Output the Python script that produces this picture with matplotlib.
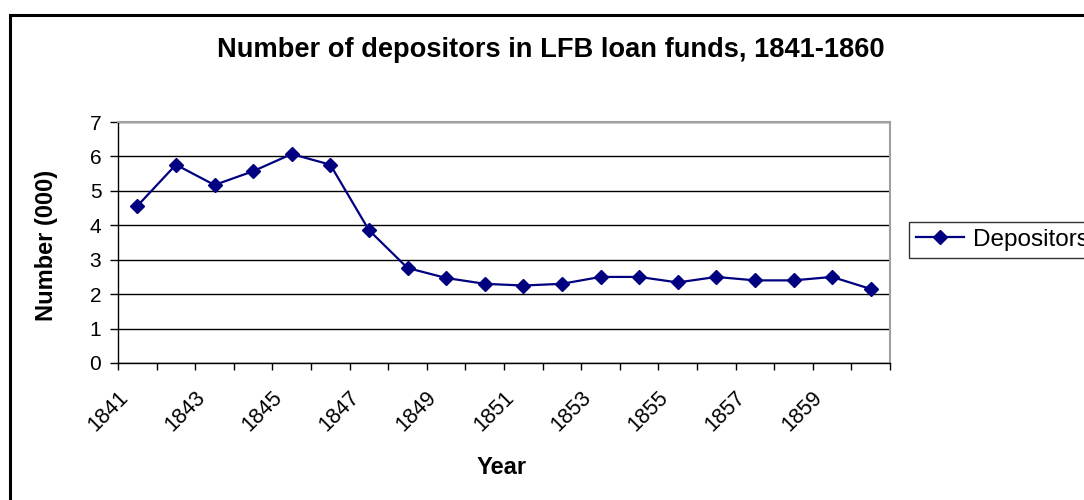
import numpy as np
import matplotlib
matplotlib.use("Agg")
import matplotlib.pyplot as plt
import matplotlib.transforms as mtransforms
from matplotlib.patches import Rectangle

plt.rcParams['font.family'] = ['Liberation Sans', 'DejaVu Sans']

years = [1841, 1842, 1843, 1844, 1845, 1846, 1847, 1848, 1849, 1850,
         1851, 1852, 1853, 1854, 1855, 1856, 1857, 1858, 1859, 1860]
depositors = [4.56, 5.76, 5.17, 5.57, 6.07, 5.76, 3.86, 2.76, 2.47, 2.30,
              2.25, 2.30, 2.50, 2.50, 2.34, 2.50, 2.40, 2.40, 2.50, 2.15]
y_ticks = [0, 1, 2, 3, 4, 5, 6, 7]

W, H = 1084, 500
fig = plt.figure(figsize=(W / 100, H / 100), dpi=100)
fig.patch.set_facecolor('white')

# plot area in pixels: left 118, right 890, top 122, bottom 363
ax = fig.add_axes([118 / W, 1 - 363 / H, (890 - 118) / W, (363 - 122) / H])

x = np.arange(len(years))
line, = ax.plot(x, depositors, color='#000080', lw=1.6, marker='D',
                markersize=7.5, markerfacecolor='#000080', markeredgecolor='#000080',
                label='Depositors')

ax.set_xlim(-0.5, len(years) - 0.5)
ax.set_ylim(0, 7)
ax.set_yticks(y_ticks)
ax.yaxis.grid(True, color='black', lw=1)
ax.set_axisbelow(True)

# category boundary ticks, labels on every other year
ax.set_xticks(np.arange(len(years) + 1) - 0.5)
ax.set_xticklabels([])
ax.set_xticks(x[::2], minor=True)
ax.set_xticklabels([str(y) for y in years[::2]], minor=True, rotation=45,
                   ha='right', va='top', rotation_mode='anchor', fontsize=15.5)
ax.tick_params(axis='x', which='minor', length=0, pad=17)
ax.tick_params(axis='x', which='major', length=5, width=1, direction='out')
ax.tick_params(axis='y', length=6, width=1, direction='out', labelsize=15, pad=6)

shift = mtransforms.ScaledTranslation(-20 / 100, 0, fig.dpi_scale_trans)
for lab in ax.get_xticklabels(minor=True):
    lab.set_transform(lab.get_transform() + shift)

for s in ['top', 'right']:
    ax.spines[s].set_color('#a0a0a0')
    ax.spines[s].set_linewidth(1.5)
for s in ['left', 'bottom']:
    ax.spines[s].set_color('black')
    ax.spines[s].set_linewidth(1)

fig.text(551 / W, 1 - 50 / H, 'Number of depositors in LFB loan funds, 1841-1860',
         ha='center', va='center', fontsize=19.6, fontweight='bold')
fig.text(47 / W, 1 - 245 / H, 'Number (000)', ha='center', va='center',
         rotation=90, fontsize=17, fontweight='bold')
fig.text(502 / W, 1 - 468 / H, 'Year', ha='center', va='center',
         fontsize=17, fontweight='bold')

leg = fig.legend(handles=[line], loc='upper left',
                 bbox_to_anchor=(909 / W, 1 - 222 / H), fontsize=17.5,
                 frameon=True, fancybox=False, borderpad=0.28,
                 handlelength=2.0, handletextpad=0.35, borderaxespad=0)
leg.get_frame().set_edgecolor('black')
leg.get_frame().set_linewidth(1)

# outer chart border, running off the right and bottom edges
fig.patches.append(Rectangle((10, -20), W + 20, H + 5, transform=None, fill=False,
                             edgecolor='black', lw=2.2))

fig.savefig('out.png', dpi=100)
